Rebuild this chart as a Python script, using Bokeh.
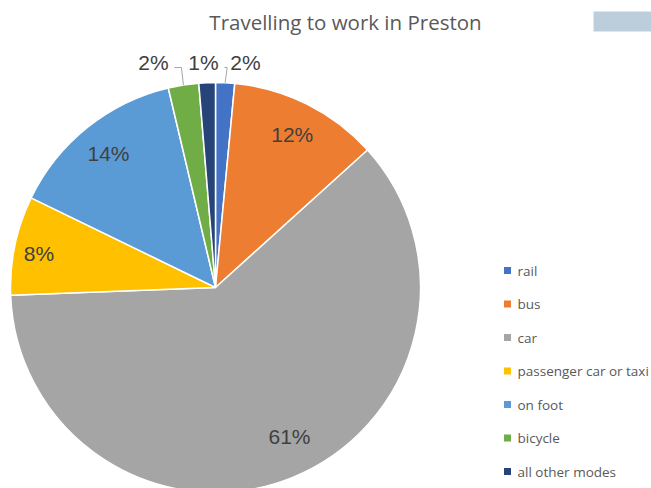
import math
from bokeh.plotting import figure
from bokeh.models import Range1d
from bokeh.core.properties import value
from bokeh.embed import file_html
from bokeh.resources import INLINE

# ---- data ----
categories = ["rail", "bus", "car", "passenger car or taxi", "on foot", "bicycle", "all other modes"]
shares = [1.5, 11.8, 61.1, 7.8, 14.1, 2.4, 1.3]
labels = ["2%", "12%", "61%", "8%", "14%", "2%", "1%"]
colors = ["#4472C4", "#ED7D31", "#A5A5A5", "#FFC000", "#5B9BD5", "#70AD47", "#264478"]
title_text = "Travelling to work in Preston"

# ---- layout styles (page pixel coords; data y = 488 - page y) ----
W, H = 651, 488
CX, CY, R = 215, 488 - 287, 205
LABEL_R = 0.835 * R
# label offsets from centre (page px) where the chart places them by hand
OFFSETS = {0: (30, -225), 5: (-62, -225), 6: (-12, -225), 2: (74, 148.5), 3: (-176.5, -34.5)}
LEADER = {0: 1, 5: -1}  # slices with leader line, side of label

p = figure(width=W, height=H, output_backend="svg", toolbar_location=None,
           x_range=Range1d(0, W), y_range=Range1d(0, H),
           min_border=0, outline_line_color=None)
p.axis.visible = False
p.grid.visible = False
p.background_fill_color = "white"

total = sum(shares)
cum = 0.0
starts, ends, mids = [], [], []
for s in shares:
    a0 = cum / total * 2 * math.pi
    cum += s
    a1 = cum / total * 2 * math.pi
    starts.append(math.pi / 2 - a0)
    ends.append(math.pi / 2 - a1)
    mids.append((a0 + a1) / 2)

p.wedge(x=[CX] * len(shares), y=[CY] * len(shares), radius=R,
        start_angle=starts, end_angle=ends, direction="clock",
        fill_color=colors, line_color="white", line_width=1.5)

lab_font = value("Liberation Sans")
for i, (lab, m) in enumerate(zip(labels, mids)):
    if i in OFFSETS:
        dx, dy = OFFSETS[i]
        lx, ly = CX + dx, CY - dy
    else:
        lx = CX + LABEL_R * math.sin(m)
        ly = CY + LABEL_R * math.cos(m)
    p.text(x=[lx], y=[ly], text=[lab], text_font=lab_font, text_font_size="21px",
           text_color="#404040", text_align="center", text_baseline="middle")
    if i in LEADER:
        side = LEADER[i]
        ax = CX + R * math.sin(m)
        ay = CY + R * math.cos(m)
        ex = ax + 2 * side
        ey = ly - 5
        tx = lx - side * 21
        p.line(x=[ax, ex, tx], y=[ay, ey, ey], line_color="#A6A6A6", line_width=1)

# title
p.text(x=[345], y=[488 - 21], text=[title_text], text_font=value("Open Sans"),
       text_font_size="20.5px", text_color="#595959", text_align="center",
       text_baseline="middle")

# blurred box top right
p.quad(left=[593], right=[W], top=[488 - 11], bottom=[488 - 31],
       fill_color="#b5c9d8", line_color=None, fill_alpha=0.9)

# legend
LEG_X, LEG_Y0, LEG_STEP = 507, 270, 33.5
for i, (c, col) in enumerate(zip(categories, colors)):
    y = 488 - (LEG_Y0 + i * LEG_STEP)
    p.scatter(x=[LEG_X], y=[y], marker="square", size=7, fill_color=col, line_color=None)
    p.text(x=[LEG_X + 10], y=[y], text=[c], text_font=value("Open Sans"), text_font_size="13.5px",
           text_color="#595959", text_align="left", text_baseline="middle")

open("out.html", "w").write(file_html(p, INLINE))
